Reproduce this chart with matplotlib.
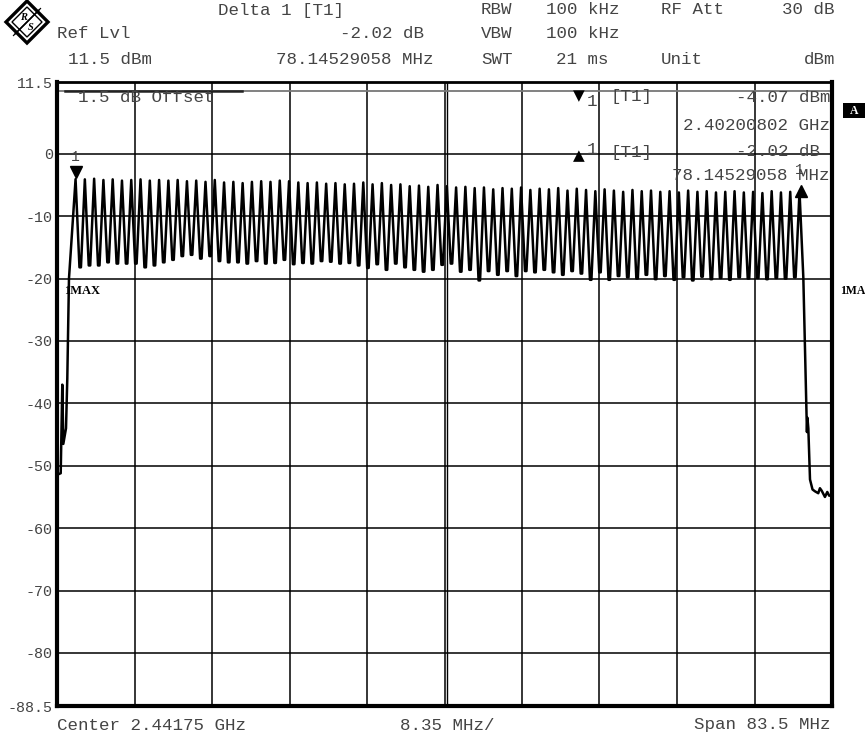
import matplotlib
matplotlib.use("Agg")
import matplotlib.pyplot as plt
from matplotlib.patches import Polygon, Rectangle
import numpy as np

# ---------------- data ----------------
f_start, f_stop = 2400.0, 2483.5          # MHz (center 2441.75, span 83.5)
y_top, y_bot = 11.5, -88.5                # dBm
ytick_vals = [11.5, 0, -10, -20, -30, -40, -50, -60, -70, -80, -88.5]
ytick_labels = ["11.5", "0", "-10", "-20", "-30", "-40", "-50", "-60", "-70", "-80", "-88.5"]

channel_freqs = list(range(2402, 2481))   # 79 hopping channels, MHz

peak_levels = [
    -4.07, -4.1, -4.0, -4.2, -4.1, -4.3, -4.2, -4.1, -4.3, -4.2,
    -4.3, -4.2, -4.4, -4.3, -4.5, -4.2, -4.6, -4.5, -4.7, -4.5,
    -4.4, -4.5, -4.3, -4.4, -4.6, -4.7, -4.6, -4.8, -4.7, -4.9,
    -4.8, -4.6, -4.9, -4.7, -5.0, -4.9, -5.2, -5.1, -5.3, -5.0,
    -5.2, -5.4, -5.3, -5.5, -5.4, -5.7, -5.5, -5.6, -5.4, -5.8,
    -5.6, -5.7, -5.5, -5.9, -5.6, -5.8, -6.0, -5.7, -5.9, -6.1,
    -5.8, -6.0, -5.9, -6.1, -6.0, -6.2, -5.9, -6.1, -6.0, -6.2,
    -6.1, -6.0, -6.2, -6.1, -6.3, -6.0, -6.2, -6.1, -6.09,
]

trough_levels = [
    -18.2, -17.9, -17.9, -17.4, -17.6, -17.6, -17.6, -18.2, -17.9, -17.4,
    -17.0, -16.4, -16.2, -16.8, -16.4, -17.2, -17.4, -17.4, -17.6, -17.2,
    -17.6, -17.5, -17.0, -17.7, -17.5, -17.6, -17.2, -17.3, -17.6, -17.5,
    -17.9, -18.3, -17.7, -18.6, -17.6, -18.2, -18.6, -18.9, -18.6, -17.8,
    -17.6, -18.9, -18.6, -20.3, -18.8, -19.4, -18.8, -19.6, -18.8, -19.0,
    -18.6, -19.0, -19.4, -18.8, -19.2, -20.2, -19.0, -20.2, -19.6, -19.8,
    -20.0, -19.4, -20.1, -19.6, -20.2, -19.8, -20.3, -19.7, -20.1, -19.9,
    -20.2, -19.8, -20.0, -19.9, -20.1, -19.9, -20.0, -19.8,
]

left_edge_f = [2400.0, 2400.08, 2400.4, 2400.57, 2400.68, 2400.97, 2401.11, 2401.29]
left_edge_lvl = [-53.0, -51.4, -51.2, -37.0, -46.5, -44.0, -36.0, -20.0]

right_edge_f = [2480.41, 2480.75, 2480.8, 2480.85, 2480.95, 2481.13, 2481.4, 2481.67,
                2482.02, 2482.2, 2482.39, 2482.74, 2482.99, 2483.2, 2483.5]
right_edge_lvl = [-19.8, -42.0, -44.6, -42.3, -44.0, -52.2, -53.8, -54.1,
                  -54.4, -53.6, -54.0, -55.0, -54.2, -54.8, -54.7]

marker1_f, marker1_lvl = 2402.00802, -4.07
delta_f, delta_lvl = 78.14529058, -2.02

# ---------------- build trace ----------------
tf = list(left_edge_f)
tl = list(left_edge_lvl)
for k, fc in enumerate(channel_freqs):
    tf.append(fc); tl.append(peak_levels[k])
    if k < len(trough_levels):
        # flat-bottomed dip between adjacent hopping channels
        tf += [fc + 0.42, fc + 0.58]
        tl += [trough_levels[k], trough_levels[k]]
tf += right_edge_f
tl += right_edge_lvl

# ---------------- figure ----------------
W, H = 865, 735
fig = plt.figure(figsize=(W / 100, H / 100), dpi=100)
fig.patch.set_facecolor("white")

def fx(px):
    return px / W

def fy(py):
    return 1 - py / H

L, R, T, B = 57, 832, 82, 706
ax = fig.add_axes([fx(L), fy(B), (R - L) / W, (B - T) / H])
ax.set_xlim(f_start, f_stop)
ax.set_ylim(y_bot, y_top)

mono = "Liberation Mono"
tcol = "#444444"

# grid
for i in range(1, 10):
    xv = f_start + i * (f_stop - f_start) / 10
    ax.axvline(xv, color="black", lw=1.1, zorder=1)
ax.axvline(f_start + 5 * (f_stop - f_start) / 10 + 0.25, color="black", lw=1.0, zorder=1)
for yv in [0, -10, -20, -30, -40, -50, -60, -70, -80]:
    ax.axhline(yv, color="black", lw=1.1, zorder=1)
# display / offset line
ax.axhline(10.1, color="#777777", lw=1.3, zorder=1)
ax.plot([2400.85, 2419.9], [10.1, 10.1], color="#222222", lw=1.8, zorder=2)

# trace
ax.plot(tf, tl, color="black", lw=1.8, zorder=3)

# markers
ax.plot([marker1_f], [marker1_lvl + 1.1], marker="v", color="black", ms=8, zorder=4)
ax.text(marker1_f, marker1_lvl + 2.4, "1", fontsize=10.5, family=mono, color=tcol,
        ha="center", va="bottom", zorder=4)
ax.plot([marker1_f + delta_f], [marker1_lvl + delta_lvl + 0.2], marker="^", color="black",
        ms=8, zorder=4)
ax.text(marker1_f + delta_f - 0.2, marker1_lvl + delta_lvl + 2.4, "1", fontsize=10.5,
        family=mono, color=tcol, ha="center", va="bottom", zorder=4)

# spines
for s in ["left", "bottom", "right"]:
    ax.spines[s].set_linewidth(3)
ax.spines["top"].set_linewidth(2)
for s in ax.spines.values():
    s.set_zorder(5)

ax.set_xticks([])
ax.set_yticks(ytick_vals)
ax.set_yticklabels(ytick_labels, family=mono, fontsize=10.8, color=tcol)
ax.tick_params(axis="y", length=0, pad=3)

# ---------------- header text ----------------
fs = 12.6
def txt(x, y, s, ha="left", size=fs, color=tcol, family=mono, **kw):
    fig.text(fx(x), fy(y), s, ha=ha, va="center", family=family, fontsize=size,
             color=color, **kw)

txt(218, 10, "Delta 1 [T1]")
txt(481, 10, "RBW")
txt(546, 10, "100 kHz")
txt(661, 10, "RF Att")
txt(835, 10, "30 dB", ha="right")

txt(57, 34, "Ref Lvl")
txt(424, 34, "-2.02 dB", ha="right")
txt(481, 34, "VBW")
txt(546, 34, "100 kHz")

txt(68, 59, "11.5 dBm")
txt(433, 59, "78.14529058 MHz", ha="right")
txt(481, 59, "SWT")
txt(556, 59, "21 ms")
txt(661, 59, "Unit")
txt(835, 59, "dBm", ha="right")

# inside plot text
txt(78, 97, "1.5 dB Offset")
txt(573, 96, "\u25bc", size=11, color="black", family="DejaVu Sans")
txt(587, 101, "1")
txt(610, 97, "[T1]")
txt(830, 97, "-4.07 dBm", ha="right")
txt(830, 125, "2.40200802 GHz", ha="right")
txt(573, 156, "\u25b2", size=11, color="black", family="DejaVu Sans")
txt(587, 150, "1")
txt(610, 152, "[T1]")
txt(830, 152, "-2.02 dB ", ha="right")
txt(830, 176, "78.14529058 MHz", ha="right")

fig.text(fx(64), fy(291), "1MAX", ha="left", va="center", family="Liberation Serif",
         fontsize=9, weight="bold", color="black")
fig.text(fx(840), fy(291), "1MA", ha="left", va="center", family="Liberation Serif",
         fontsize=8.5, weight="bold", color="black")

# "A" box
fig.patches.append(Rectangle((fx(843), fy(118)), fx(22), 15 / H, transform=fig.transFigure,
                             facecolor="black", edgecolor="none"))
fig.text(fx(854), fy(110.5), "A", ha="center", va="center", family="Liberation Serif",
         fontsize=8.5, weight="bold", color="white")

# bottom text
txt(57, 725, "Center 2.44175 GHz")
txt(447, 725, "8.35 MHz/", ha="center")
txt(830, 725, "Span 83.5 MHz", ha="right")

# R&S logo
cx, cy, r = 27, 22, 21
dia = [(fx(cx), fy(cy - r)), (fx(cx + r), fy(cy)), (fx(cx), fy(cy + r)), (fx(cx - r), fy(cy))]
fig.patches.append(Polygon(dia, closed=True, transform=fig.transFigure, facecolor="white",
                           edgecolor="black", lw=2.4))
inner = 15
dia2 = [(fx(cx), fy(cy - inner)), (fx(cx + inner), fy(cy)), (fx(cx), fy(cy + inner)), (fx(cx - inner), fy(cy))]
fig.patches.append(Polygon(dia2, closed=True, transform=fig.transFigure, facecolor="none",
                           edgecolor="black", lw=1.0))
for d in (-1.5, 0, 1.5):
    fig.lines.append(plt.Line2D([fx(cx - 12 + d), fx(cx + 12 + d)], [fy(cy + 12 - d), fy(cy - 12 - d)],
                                transform=fig.transFigure, color="black", lw=0.9))
fig.text(fx(cx - 4), fy(cy - 5), "R", ha="center", va="center", family="Liberation Serif",
         fontsize=7.5, weight="bold", style="italic", color="black")
fig.text(fx(cx + 4), fy(cy + 6), "S", ha="center", va="center", family="Liberation Serif",
         fontsize=7.5, weight="bold", style="italic", color="black")

fig.savefig("out.png", dpi=100, facecolor="white")
